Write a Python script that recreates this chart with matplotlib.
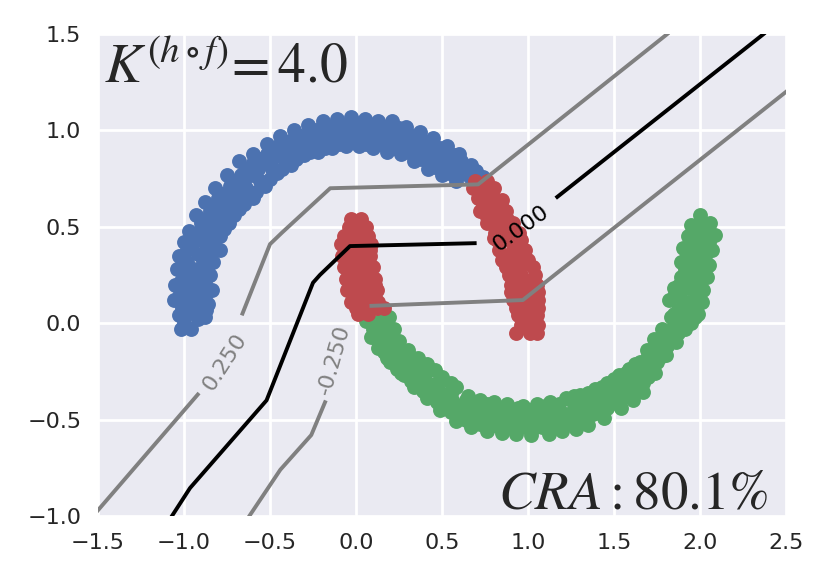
import matplotlib
matplotlib.use('Agg')
import matplotlib.pyplot as plt

plt.rcParams['mathtext.fontset'] = 'stix'
plt.rcParams['font.family'] = 'DejaVu Sans'

# points, (x, y)
blue = [(-1.02,-.03),(-.96,-.03),(-1.06,.12),(-1.05,.2),(-1.04,.28),(-1.03,.35),(-1.0,.42),(-.97,.48),(-.93,.56),(-.88,.63),
        (-.82,.7),(-.75,.77),(-.68,.84),(-.6,.88),(-.52,.93),(-.44,.97),(-.36,1.0),(-.28,1.03),(-.19,1.05),(-.11,1.06),
        (-.03,1.07),(.05,1.06),(.13,1.05),(.21,1.05),(.29,1.02),(.37,.99),(.45,.96),(.53,.92),(.6,.88),(.67,.82),(.74,.76),
        (-.88,.03),(-.86,.1),(-.84,.17),(-.85,.25),(-.83,.32),(-.79,.38),(-.79,.45),(-.74,.52),(-.68,.59),(-.6,.65),
        (-.53,.71),(-.46,.78),(-.38,.82),(-.3,.87),(-.22,.89),(-.14,.91),(-.06,.92),(.02,.92),(.1,.91),(.18,.89),
        (.26,.88),(.34,.84),(.42,.8),(.5,.77),(.58,.74),
        (-.98,.05),(-.97,.12),(-.97,.2),(-.95,.28),(-.92,.36),(-.9,.43),(-.86,.5),(-.8,.58),(-.75,.64),(-.68,.71),
        (-.6,.77),(-.52,.83),(-.44,.87),(-.36,.92),(-.27,.95),(-.18,.98),(-.09,.99),(0,1.0),(.09,.98),(.18,.97),
        (.27,.96),(.36,.92),(.44,.88),(.52,.84),(.6,.81),(.66,.76),
        (-.91,.1),(-.9,.2),(-.88,.3),(-.85,.4),(-.8,.5),(-.72,.58),(-.65,.66),
        (-1.0,.0),(-1.01,.08),(-1.01,.16),(-1.0,.24),(-.98,.32),(-.96,.4),(-.92,.47),(-.88,.54),(-.84,.6),(-.78,.67),
        (-.71,.74),(-.64,.8),(-.56,.85),(-.48,.9),(-.4,.94),(-.32,.97),(-.23,1.0),(-.14,1.02),(-.05,1.03),(.03,1.03),
        (.12,1.01),(.21,1.0),(.29,.98),(.37,.95),(.45,.92),(.53,.88),(.61,.84),(.7,.79),
        (-.92,.02),(-.93,.07),(-.93,.15),(-.91,.23),(-.9,.29),(-.88,.37),(-.84,.46),(-.78,.55),(-.71,.63),(-.64,.7),
        (-.56,.74),(-.49,.8),(-.41,.85),(-.33,.9),(-.25,.92),(-.16,.95),(-.08,.96),(.02,.96),(.1,.95),(.2,.93),
        (.28,.92),(.36,.88),(.44,.84),(.5,.8),(.56,.78),(.62,.78),
        (-.95,.1),(-.95,.18),(-.94,.25),(-.9,.35),(-.87,.43),(-.83,.52),(-.78,.6),(-.72,.67),(-.65,.74),(-.57,.8),
        (-.49,.85),(-.41,.89),(-.32,.93),(-.23,.96),(-.13,.98),(-.04,.98),(.05,.98),(.14,.98),(.23,.95),(.32,.93),
        (.4,.9),(.48,.86),(.56,.82),(.63,.79),
        (-1.03,.04),(-1.03,.14),(-1.02,.22),(-1.01,.3),(-.98,.38),(-.95,.44),(-.9,.52),(-.85,.58),(-.8,.65),(-.73,.71),
        (-.67,.77),(-.6,.83),(-.52,.88),(-.44,.93),(-.36,.96),(-.27,1.0),(-.18,1.02),(-.09,1.03),(0,1.04),(.08,1.02),
        (.17,1.02),(.25,1.01),(.33,.97),(.41,.94),(.49,.91),(.57,.87),(.65,.81),
        (-.87,.07),(-.88,.14),(-.88,.22),(-.86,.3),(-.83,.38),(-.82,.44),(-.77,.49),(-.71,.56),(-.65,.62),(-.58,.68),
        (-.5,.75),(-.43,.8),(-.35,.85),(-.27,.89),(-.18,.91),(-.1,.93),(-.02,.94),(.06,.93),(.14,.93),(.22,.91),
        (.3,.89),(.38,.85),(.46,.81),(.54,.78)]
green = [(.09,-.07),(.125,-.13),(.2,-.2),(.28,-.27),(.34,-.33),(.41,-.39),(.49,-.45),(.58,-.505),(.67,-.54),(.76,-.56),
         (.85,-.57),(.93,-.575),(1.02,-.58),(1.12,-.575),(1.2,-.56),(1.28,-.55),(1.35,-.53),(1.44,-.49),(1.54,-.44),(1.61,-.4),
         (1.67,-.355),(1.74,-.26),(1.80,-.165),(1.86,-.1),(1.91,-.03),(1.99,.05),(2.01,.11),(2.02,.17),(2.04,.24),(2.05,.3),
         (2.07,.38),(2.085,.46),(2.06,.52),
         (.06,.01),(.19,.03),(.22,-.03),(.25,-.09),(.3,-.14),(.36,-.18),(.41,-.21),(.46,-.245),(.55,-.31),(.65,-.375),
         (.72,-.4),(.8,-.41),(.88,-.42),(.97,-.43),(1.05,-.42),(1.13,-.41),(1.22,-.39),(1.3,-.37),(1.39,-.34),(1.46,-.31),
         (1.53,-.27),(1.59,-.24),(1.65,-.2),(1.69,-.14),(1.73,-.08),(1.78,-.03),(1.83,.03),(1.82,.12),(1.85,.18),(1.89,.24),
         (1.89,.32),(1.90,.39),(1.93,.45),(1.95,.51),(2.0,.56),
         (.13,-.03),(.17,-.1),(.22,-.17),(.3,-.21),(.36,-.27),(.44,-.32),(.52,-.38),(.6,-.43),(.68,-.47),(.77,-.49),
         (.86,-.5),(.95,-.5),(1.04,-.5),(1.13,-.49),(1.22,-.47),(1.3,-.45),(1.38,-.42),(1.46,-.39),(1.53,-.35),(1.6,-.31),
         (1.66,-.26),(1.71,-.2),(1.77,-.13),(1.82,-.06),(1.9,.04),(1.93,.11),(1.94,.18),(1.97,.27),(1.98,.35),(2.0,.42),(2.03,.5),
         (.12,-.08),(.16,-.15),(.24,-.24),(.32,-.3),(.39,-.35),(.47,-.41),(.55,-.46),(.64,-.5),(.72,-.525),(.81,-.53),
         (.9,-.54),(.99,-.54),(1.08,-.54),(1.17,-.52),(1.26,-.51),(1.33,-.485),(1.41,-.455),(1.49,-.415),(1.57,-.375),(1.64,-.33),
         (1.7,-.28),(1.75,-.2),(1.81,-.12),(1.87,-.05),(1.95,.0),(1.96,.08),(1.98,.14),(2.0,.21),(2.01,.32),(2.04,.4),(2.05,.45),
         (.14,.01),(.2,-.06),(.26,-.15),(.33,-.18),(.4,-.26),(.48,-.3),(.56,-.35),(.64,-.4),(.72,-.44),(.81,-.45),
         (.9,-.46),(.99,-.465),(1.08,-.455),(1.17,-.45),(1.26,-.41),(1.34,-.39),(1.42,-.365),(1.5,-.32),(1.56,-.29),(1.63,-.25),
         (1.68,-.2),(1.74,-.15),(1.78,-.08),(1.85,-.01),(1.87,.07),(1.88,.15),(1.92,.21),(1.93,.3),(1.94,.37),(1.97,.45),(1.99,.51),
         (.15,-.05),(.19,-.13),(.26,-.19),(.33,-.24),(.4,-.29),(.48,-.35),(.56,-.4),(.64,-.45),(.72,-.48),(.81,-.5),
         (.9,-.5),(.99,-.5),(1.08,-.49),(1.17,-.48),(1.26,-.46),(1.34,-.43),(1.42,-.4),(1.5,-.37),(1.56,-.33),(1.63,-.28),
         (1.68,-.23),(1.74,-.17),(1.79,-.1),(1.86,-.03),(1.92,.0),(1.9,.1),(1.91,.18),(1.95,.24),(1.96,.31),(1.97,.39),(2.0,.47),
         (.1,-.03),(.15,-.08),(.18,-.18),(.26,-.26),(.36,-.31),(.43,-.37),(.51,-.43),(.6,-.47),(.69,-.51),(.77,-.53),
         (.86,-.54),(.95,-.54),(1.04,-.54),(1.13,-.53),(1.22,-.52),(1.3,-.49),(1.38,-.47),(1.46,-.44),(1.53,-.4),(1.61,-.36),
         (1.67,-.31),(1.72,-.24),(1.78,-.17),(1.84,-.09),(1.89,-.01),(1.97,.03),(1.99,.1),(2.0,.16),(2.02,.27),(2.03,.35),(2.05,.42),
         (.1,.0),(.16,-.02),(.23,-.1),(.28,-.17),(.35,-.22),(.42,-.24),(.5,-.28),(.58,-.33),(.66,-.42),(.76,-.42),
         (.85,-.44),(.94,-.44),(1.02,-.45),(1.1,-.43),(1.18,-.42),(1.27,-.38),(1.35,-.36),(1.43,-.33),(1.5,-.29),(1.57,-.26),
         (1.62,-.21),(1.7,-.17),(1.75,-.1),(1.8,-.05),(1.85,.05),(1.85,.14),(1.88,.2),(1.91,.28),(1.92,.34),(1.95,.41),(1.98,.48)]
red = [(.69,.74),(.76,.74),(.68,.70),(.75,.70),(.80,.70),(.71,.65),(.78,.65),(.85,.64),(.72,.58),(.80,.58),(.87,.58),
       (.76,.52),(.84,.52),(.91,.52),(.81,.47),(.88,.47),(.95,.47),(.83,.38),(.91,.38),(.98,.38),(.85,.33),(.93,.33),(1.0,.33),
       (.87,.29),(.95,.29),(1.03,.29),(.90,.2),(.97,.2),(1.05,.2),(.91,.12),(.99,.12),(1.06,.12),(.94,.04),(1.0,.04),(1.05,.04),
       (.96,-.01),(1.03,-.01),(1.06,-.01),(.93,-.05),(1.01,-.05),(1.05,-.05),
       (.74,.61),(.83,.61),(.76,.55),(.84,.55),(.82,.43),(.89,.43),(.96,.43),(.89,.25),(.96,.25),(1.04,.25),
       (.9,.16),(.98,.16),(1.06,.16),(.93,.08),(1.0,.08),(1.06,.08),(.98,.0),
       (.8,.44),(.87,.5),(.93,.41),(.94,.36),(.88,.35),(.9,.31),(.98,.31),(.93,.22),(1.0,.22),(.94,.14),(1.02,.14),
       (.96,.06),(1.03,.06),(.72,.68),(.79,.67),(.77,.6),(.85,.6),(.8,.54),(.88,.54),
       (-.03,.54),(.03,.54),(-.04,.5),(.06,.5),(-.07,.45),(0,.45),(.07,.45),(-.09,.41),(-.02,.41),(.06,.41),(.09,.41),
       (-.08,.35),(0,.35),(.08,.35),(-.07,.29),(.01,.29),(.1,.29),(-.06,.23),(.03,.23),(.11,.23),(-.05,.17),(.03,.17),(.12,.17),
       (-.03,.11),(.05,.11),(.13,.11),(0,.08),(.08,.08),(.16,.08),(.01,.05),(.07,.05),
       (-.05,.38),(.04,.38),(-.04,.32),(.05,.32),(-.02,.26),(.07,.26),(-.01,.2),(.08,.2),(0,.14),(.09,.14),(0,.48),(0,.52),
       (-.02,.43),(.04,.43),(-.06,.37),(.02,.37),(.08,.38),(-.04,.27),(.05,.27),(.08,.3),(-.03,.2),(.06,.2),(.11,.2),
       (-.01,.13),(.07,.13),(.11,.13),(.03,.08),(.12,.08)]

level0_a = [(-1.07,-1.0),(-.965,-.855),(-.52,-.40),(-.25,.21),(-.21,.25),(-.035,.40),(.69,.415)]
level0_b = [(1.17,.655),(2.37,1.5)]
upper_a = [(-1.5,-.97),(-.92,-.37)]
upper_b = [(-.66,.05),(-.5,.41),(-.43,.47),(-.15,.70),(.71,.72),(1.81,1.5)]
lower_a = [(-.62,-1.0),(-.44,-.76),(-.26,-.58),(-.18,-.41)]
lower_b = [(.09,.09),(.97,.12),(2.5,1.2)]

xticks = [-1.5,-1.0,-0.5,0.0,0.5,1.0,1.5,2.0,2.5]
yticks = [-1.0,-0.5,0.0,0.5,1.0,1.5]

fig = plt.figure(figsize=(8.3,5.81),dpi=100)
ax = fig.add_axes([98/830,1-516/581,688/830,482/581])
ax.set_facecolor('#EAEAF2')
for s in ax.spines.values():
    s.set_visible(False)
ax.grid(True,color='white',lw=2.0)
ax.set_axisbelow(True)
ax.set_xlim(-1.5,2.5)
ax.set_ylim(-1.0,1.5)
ax.set_xticks(xticks)
ax.set_yticks(yticks)
ax.tick_params(length=0,labelsize=16,labelcolor='#262626',pad=12)

for pts,c in [(blue,'#4C72B0'),(green,'#55A868'),(red,'#BE4A4E')]:
    ax.scatter([p[0] for p in pts],[p[1] for p in pts],s=115,c=c,linewidths=0)

for seg in [upper_a,upper_b,lower_a,lower_b]:
    ax.plot([p[0] for p in seg],[p[1] for p in seg],color='gray',lw=2.8,solid_joinstyle='round')
for seg in [level0_a,level0_b]:
    ax.plot([p[0] for p in seg],[p[1] for p in seg],color='black',lw=2.8,solid_joinstyle='round')

ax.text(-.76,-.2,'0.250',color='gray',fontsize=16,rotation=57,ha='center',va='center',rotation_mode='anchor')
ax.text(-.13,-.19,'-0.250',color='gray',fontsize=16,rotation=74,ha='center',va='center',rotation_mode='anchor')
ax.text(.96,.49,'0.000',color='black',fontsize=16,rotation=36,ha='center',va='center',rotation_mode='anchor')

ax.text(-1.465,1.246,r'$K^{(h\circ f)}\!=\!\,4.0$',fontsize=40,color='#262626')
ax.text(.825,-.96,r'$CRA: 80.1\%$',fontsize=39.5,color='#262626')

fig.savefig('out.png',dpi=100)
